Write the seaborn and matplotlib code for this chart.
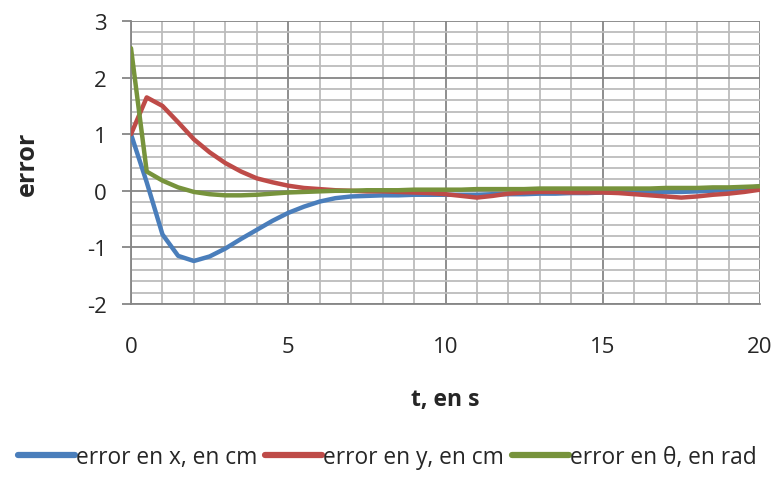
import numpy as np
import pandas as pd
import matplotlib
matplotlib.use("Agg")
import matplotlib.pyplot as plt
import seaborn as sns
from matplotlib.ticker import MultipleLocator

# time axis (s), one sample every 0.5 s
t = [i * 0.5 for i in range(41)]

err_x = [1.00, 0.15, -0.77, -1.15, -1.24, -1.16, -1.02, -0.85, -0.69, -0.53,
         -0.39, -0.28, -0.19, -0.13, -0.10, -0.09, -0.08, -0.08, -0.07, -0.07,
         -0.07, -0.07, -0.07, -0.06, -0.06, -0.06, -0.05, -0.05, -0.04, -0.04,
         -0.03, -0.03, -0.03, -0.03, -0.02, -0.02, -0.01, 0.00, 0.02, 0.04,
         0.08]
err_y = [1.00, 1.65, 1.50, 1.21, 0.91, 0.68, 0.49, 0.34, 0.22, 0.15,
         0.09, 0.05, 0.03, 0.01, 0.00, -0.01, -0.01, -0.02, -0.03, -0.04,
         -0.06, -0.09, -0.12, -0.09, -0.05, -0.03, -0.02, -0.02, -0.03, -0.03,
         -0.03, -0.04, -0.06, -0.08, -0.10, -0.12, -0.10, -0.07, -0.05, -0.02,
         0.02]
err_th = [2.52, 0.34, 0.18, 0.06, -0.02, -0.06, -0.08, -0.08, -0.07, -0.05,
          -0.03, -0.02, -0.01, 0.00, 0.00, 0.01, 0.01, 0.01, 0.02, 0.02,
          0.02, 0.02, 0.03, 0.03, 0.03, 0.03, 0.04, 0.04, 0.04, 0.04,
          0.04, 0.04, 0.04, 0.04, 0.05, 0.05, 0.05, 0.06, 0.06, 0.07,
          0.08]

labels = ["error en x, en cm", "error en y, en cm", "error en θ, en rad"]
colors = ["#4a7ebb", "#be4b48", "#77933c"]

df = pd.concat([
    pd.DataFrame({"t": t, "value": v, "serie": lab})
    for v, lab in zip([err_x, err_y, err_th], labels)
])

sns.set_theme(style="white")
plt.rcParams["font.family"] = ["Open Sans", "DejaVu Sans"]

fig = plt.figure(figsize=(7.75, 4.85), dpi=100)
ax = fig.add_axes([131 / 775, 1 - 305 / 485, 629 / 775, 283 / 485])

sns.lineplot(data=df, x="t", y="value", hue="serie", palette=colors,
             linewidth=3.2, ax=ax, legend=False, zorder=3)

ax.set_xlim(0, 20)
ax.set_ylim(-2, 3)
ax.xaxis.set_major_locator(MultipleLocator(5))
ax.xaxis.set_minor_locator(MultipleLocator(1))
ax.yaxis.set_major_locator(MultipleLocator(1))
ax.yaxis.set_minor_locator(MultipleLocator(0.2))

ax.grid(which="minor", color="#bcbcbc", linewidth=1.3, zorder=1)
ax.grid(which="major", color="#868686", linewidth=1.3, zorder=2)
ax.set_axisbelow(True)

for s in ["top", "right"]:
    ax.spines[s].set_visible(False)
for s in ["left", "bottom"]:
    ax.spines[s].set_color("#868686")
    ax.spines[s].set_linewidth(1.3)

ax.tick_params(axis="y", which="major", left=True, length=6.5, width=1.3,
               color="#868686", pad=11, labelsize=16)
ax.tick_params(axis="y", which="minor", left=False)
ax.tick_params(axis="x", which="both", bottom=False, length=0, pad=23,
               labelsize=16)
ax.set_yticks([-2, -1, 0, 1, 2, 3])
ax.set_yticklabels(["-2", "-1", "0", "1", "2", "3"])

ax.set_xlabel("t, en s", fontsize=16.5, fontweight="bold", labelpad=22)
ax.set_ylabel("error", fontsize=18, fontweight="bold", labelpad=34)

handles = [plt.Line2D([], [], color=c, linewidth=4.5) for c in colors]
fig.legend(handles, labels, loc="center", bbox_to_anchor=(0.5, 1 - 458 / 485),
           ncol=3, frameon=False, fontsize=16.4, handlelength=2.5,
           handletextpad=0.05, columnspacing=0.35)

fig.savefig("out.png", dpi=100)
